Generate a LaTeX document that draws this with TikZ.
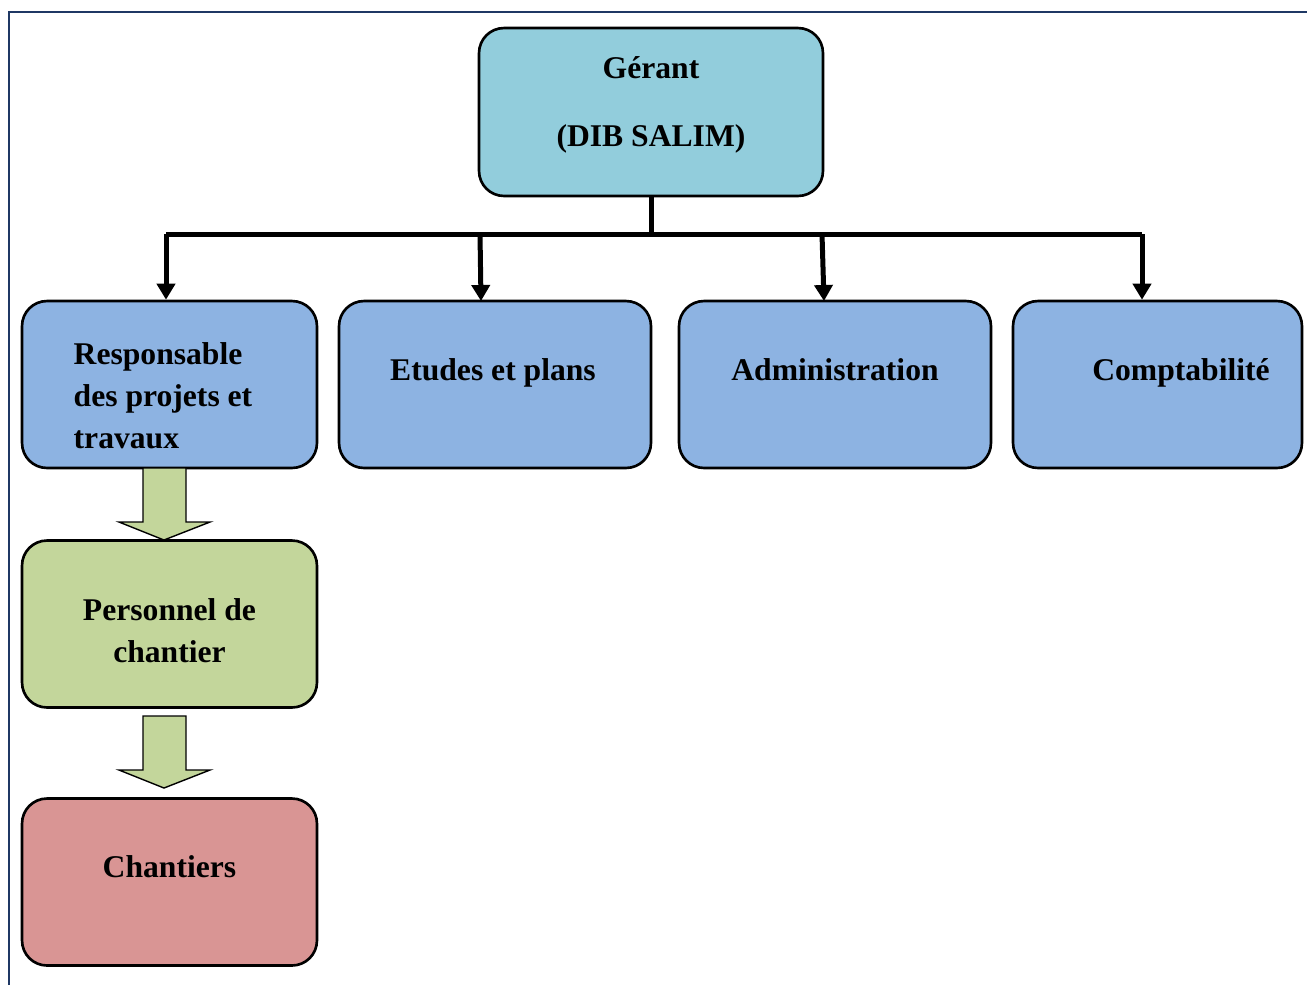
\documentclass[tikz,border=0pt]{standalone}
\usepackage{fontspec}
\setmainfont{Liberation Serif}
\usetikzlibrary{arrows.meta, positioning}

\definecolor{framecol}{HTML}{1F3864}
\definecolor{gerantcol}{HTML}{92CDDC}
\definecolor{servcol}{HTML}{8DB3E2}
\definecolor{perscol}{HTML}{C3D69B}
\definecolor{chantcol}{HTML}{D99594}

\newcommand{\blockarrow}[2]{% tail y, tip y
  \draw[blockarr] (143,#1) -- (186,#1) -- (186,#2-18) -- (210,#2-18)
    -- (164,#2) -- (119,#2-18) -- (143,#2-18) -- cycle;
}

\begin{document}
\begin{tikzpicture}[x=0.02cm, y=-0.02cm,
          > = {Triangle[length=0.32cm, width=0.36cm]}, % arrow head style
          font = \fontsize{18}{24}\selectfont\bfseries
      ]

      \tikzstyle{box}=[
          draw = black,
          line width = 1.5pt,
          rounded corners = 0.5cm,
          minimum width = 5.9cm,
          minimum height = 3.34cm
      ]
      \tikzstyle{txt}=[inner sep = 0pt]
      \tikzstyle{link}=[line width = 0.1cm]
      \tikzstyle{blockarr}=[draw = black, line width = 0.8pt, fill = perscol]

  \useasboundingbox (0,0) rectangle (1307,985);
  \draw[framecol, line width = 0.04cm] (9,985) -- (9,12) -- (1307,12);

  % Draw the vertices.
  \node[box, fill = gerantcol, minimum width = 6.88cm, minimum height = 3.36cm,
        label = {[txt, align = center, yshift = 0.14cm]center:G\'erant\\[0.52cm](DIB SALIM)}]
        (gerant) at (651,112) {};

  \node[box, fill = servcol,
        label = {[txt, align = left, xshift = -0.13cm, yshift = -0.23cm]center:Responsable\\des projets et\\travaux}]
        (resp) at (169.5,384.5) {};
  \node[box, fill = servcol, minimum width = 6.24cm,
        label = {[txt, xshift = -0.04cm, yshift = 0.23cm]center:Etudes et plans}]
        (etudes) at (495,384.5) {};
  \node[box, fill = servcol, minimum width = 6.24cm,
        label = {[txt, yshift = 0.29cm]center:Administration}]
        (admin) at (835,384.5) {};
  \node[box, fill = servcol, minimum width = 5.78cm,
        label = {[txt, xshift = 0.47cm, yshift = 0.23cm]center:Comptabilit\'e}]
        (compta) at (1157.5,384.5) {};

  \node[box, fill = perscol,
        label = {[txt, align = center, yshift = -0.14cm]center:Personnel de\\chantier}]
        (pers) at (169.5,624) {};
  \node[box, fill = chantcol,
        label = {[txt, yshift = 0.3cm]center:Chantiers}]
        (chant) at (169.5,882) {};

  % Connect vertices with edges
  \coordinate (bar) at (651,234);
  \coordinate (barl) at (166,234);
  \coordinate (barr) at (1142,234);

  \draw[link] (gerant.south) -- (bar);
  \draw[link] (barl) -- (barr);
  \draw[link, ->] (barl) -- (barl |- resp.north);
  \draw[link, ->] (480,234) -- (481,301);
  \draw[link, ->] (822,234) -- (824,301);
  \draw[link, ->] (barr) -- (barr |- compta.north);

  \blockarrow{468}{540}
  \blockarrow{716}{788}
\end{tikzpicture}
\end{document}
